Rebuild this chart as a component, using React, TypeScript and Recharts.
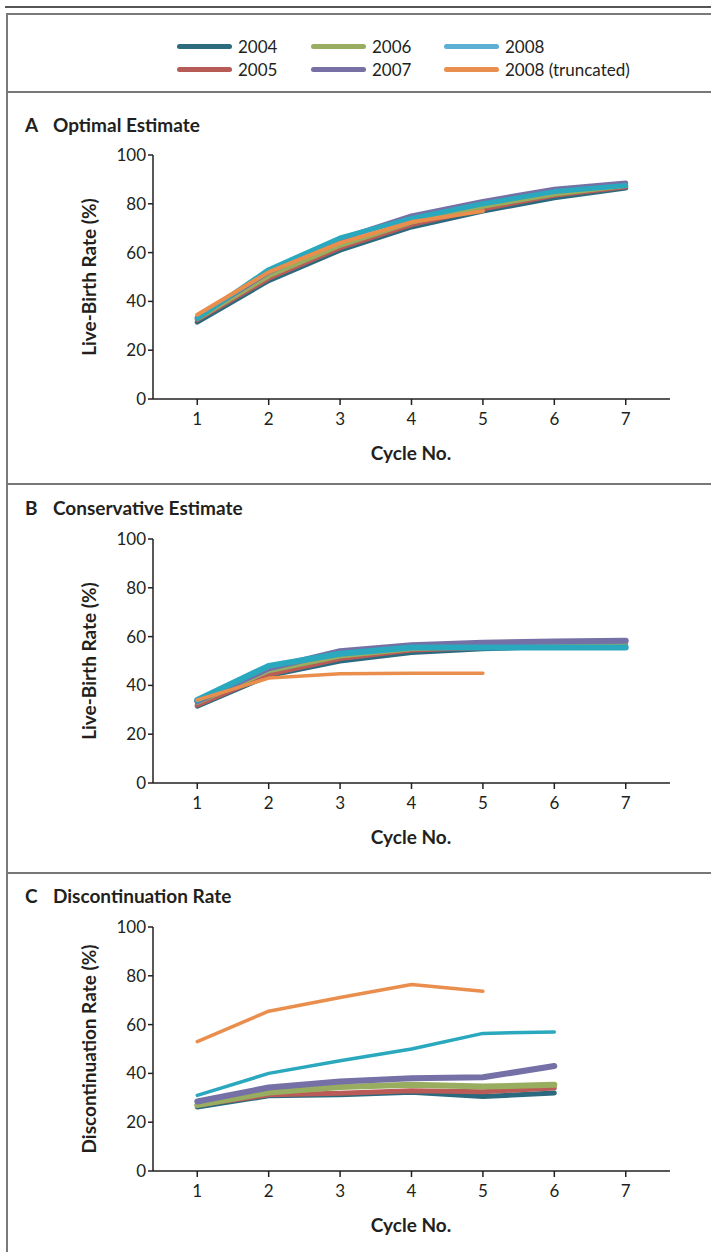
import React from 'react';
import { LineChart, Line, XAxis, YAxis } from 'recharts';

const cycles = [1, 2, 3, 4, 5, 6, 7];
const yTicks = [0, 20, 40, 60, 80, 100];
const seriesNames = ['2004', '2005', '2006', '2007', '2008', '2008 (truncated)'];

const optimal2004 = [31.5, 48.5, 61, 70.5, 77, 82.5, 86.5];
const optimal2005 = [32.5, 49.5, 62, 71.5, 78, 83.5, 87];
const optimal2006 = [33, 50.5, 63, 72.5, 79, 84, 87.5];
const optimal2007 = [33.5, 52, 65.5, 75, 81, 86, 88.5];
const optimal2008 = [33, 53, 66, 74, 80, 85, 87.5];
const optimalTrunc = [34.5, 52, 64, 72.5, 77];

const conservative2004 = [31.5, 44, 50, 53.5, 55, 56, 56.5];
const conservative2005 = [32, 44.5, 51, 54.5, 55.5, 56.5, 57];
const conservative2006 = [33, 46, 52, 55, 56, 57, 57.5];
const conservative2007 = [33.5, 47, 54, 56.5, 57.5, 58, 58.3];
const conservative2008 = [34, 48, 53, 55.5, 55.5, 55.5, 55.5];
const conservativeTrunc = [34, 43, 44.8, 45, 45];

const discont2004 = [26.2, 30.8, 31.2, 32.3, 30.5, 32];
const discont2005 = [27, 31.2, 31.9, 32.9, 32.5, 34];
const discont2006 = [27, 32.2, 34.4, 35.3, 34.6, 35.3];
const discont2007 = [28.5, 34.2, 36.7, 38, 38.4, 43];
const discont2008 = [31, 40, 45.2, 50, 56.4, 57];
const discontTrunc = [53, 65.5, 71.1, 76.4, 73.7];

const lineColors = ['#2b6a7e', '#bb5b57', '#98ad5f', '#7570a6', '#2aa8bd', '#e98e4d'];
const legendColors = ['#2d6b7f', '#b75b57', '#9aae61', '#7670a5', '#5bb0d3', '#e88f4f'];

const FONT = 'Lato, "Open Sans", sans-serif';
const INK = '#231f20';

function buildRows(seriesList: number[][]) {
  return cycles.map((c, i) => {
    const row: Record<string, number | null> = { cycle: c };
    seriesList.forEach((s, k) => {
      row['s' + k] = i < s.length ? s[i] : null;
    });
    return row;
  });
}

type PanelProps = {
  plotTop: number;
  letter: string;
  title: string;
  titleTop: number;
  yLabel: string;
  series: number[][];
  widths: number[];
};

const PLOT_H = 244;

function Panel({ plotTop, letter, title, titleTop, yLabel, series, widths }: PanelProps) {
  const data = buildRows(series);
  const marginTop = 20;
  const axisH = 40;
  const h = PLOT_H + marginTop + axisH;
  return (
    <>
      <div style={{ position: 'absolute', left: 25, top: titleTop, fontFamily: FONT, fontWeight: 700, fontSize: 19, color: INK, whiteSpace: 'nowrap', lineHeight: '20px' }}>
        <span style={{ display: 'inline-block', width: 28 }}>{letter}</span>
        {title}
      </div>
      <div style={{ position: 'absolute', left: 0, top: plotTop - marginTop, width: 711, height: h }}>
        <LineChart width={711} height={h} data={data} margin={{ top: marginTop, right: 41, bottom: 0, left: 0 }}>
          <XAxis
            dataKey="cycle"
            type="number"
            domain={[0.38, 7.62]}
            ticks={cycles}
            allowDataOverflow
            height={axisH}
            tickSize={6}
            tickMargin={8}
            axisLine={{ stroke: INK, strokeWidth: 1.5 }}
            tickLine={{ stroke: INK, strokeWidth: 1.5 }}
            tick={{ fill: INK, fontSize: 17, fontFamily: FONT }}
          />
          <YAxis
            type="number"
            domain={[0, 100]}
            ticks={yTicks}
            width={153}
            tickSize={5}
            tickMargin={2}
            axisLine={{ stroke: INK, strokeWidth: 1.5 }}
            tickLine={{ stroke: INK, strokeWidth: 1.5 }}
            tick={{ fill: INK, fontSize: 17, fontFamily: FONT }}
          />
          {series.map((_, k) => (
            <Line
              key={k}
              dataKey={'s' + k}
              type="linear"
              stroke={lineColors[k]}
              strokeWidth={widths[k]}
              strokeLinecap="round"
              strokeLinejoin="round"
              dot={false}
              activeDot={false}
              connectNulls={false}
              isAnimationActive={false}
            />
          ))}
        </LineChart>
      </div>
      <div style={{ position: 'absolute', left: 411, top: plotTop + PLOT_H + 53, transform: 'translate(-50%, -50%)', fontFamily: FONT, fontWeight: 700, fontSize: 19, color: INK, whiteSpace: 'nowrap' }}>
        Cycle No.
      </div>
      <div style={{ position: 'absolute', left: 88, top: plotTop + PLOT_H / 2, transform: 'translate(-50%, -50%) rotate(-90deg)', fontFamily: FONT, fontWeight: 700, fontSize: 19, color: INK, whiteSpace: 'nowrap' }}>
        {yLabel}
      </div>
    </>
  );
}

const legendPos = [
  { x: 177, y: 46 },
  { x: 177, y: 69 },
  { x: 311, y: 46 },
  { x: 311, y: 69 },
  { x: 444, y: 46 },
  { x: 444, y: 69 },
];

export default function App() {
  return (
    <div style={{ position: 'absolute', left: 0, top: 0, width: 711, height: 1252, overflow: 'hidden', background: '#fff' }}>
      <div style={{ position: 'absolute', left: 5, top: 6, width: 706, height: 2, background: '#555' }} />
      <div style={{ position: 'absolute', left: 6, top: 13, width: 720, height: 1260, borderLeft: '2px solid #7a7a7a', borderTop: '2px solid #7a7a7a', boxSizing: 'border-box' }} />
      {[91, 483, 872].map((y) => (
        <div key={y} style={{ position: 'absolute', left: 6, top: y, width: 705, height: 2, background: '#777' }} />
      ))}
      {seriesNames.map((name, k) => (
        <div key={name} style={{ position: 'absolute', left: legendPos[k].x, top: legendPos[k].y - 10, height: 20, display: 'flex', alignItems: 'center', fontFamily: FONT, fontSize: 17, color: INK, whiteSpace: 'nowrap' }}>
          <span style={{ display: 'inline-block', width: 55, height: 5, borderRadius: 3, background: legendColors[k], marginRight: 6 }} />
          {name}
        </div>
      ))}
      <Panel
        plotTop={155}
        letter="A"
        title="Optimal Estimate"
        titleTop={115}
        yLabel="Live-Birth Rate (%)"
        series={[optimal2004, optimal2005, optimal2006, optimal2007, optimal2008, optimalTrunc]}
        widths={[5, 5, 5, 5, 5, 4]}
      />
      <Panel
        plotTop={539}
        letter="B"
        title="Conservative Estimate"
        titleTop={498}
        yLabel="Live-Birth Rate (%)"
        series={[conservative2004, conservative2005, conservative2006, conservative2007, conservative2008, conservativeTrunc]}
        widths={[5, 5, 5, 6, 6, 3.5]}
      />
      <Panel
        plotTop={927}
        letter="C"
        title="Discontinuation Rate"
        titleTop={886}
        yLabel="Discontinuation Rate (%)"
        series={[discont2004, discont2005, discont2006, discont2007, discont2008, discontTrunc]}
        widths={[5, 5, 6, 6, 3.5, 3.5]}
      />
    </div>
  );
}
